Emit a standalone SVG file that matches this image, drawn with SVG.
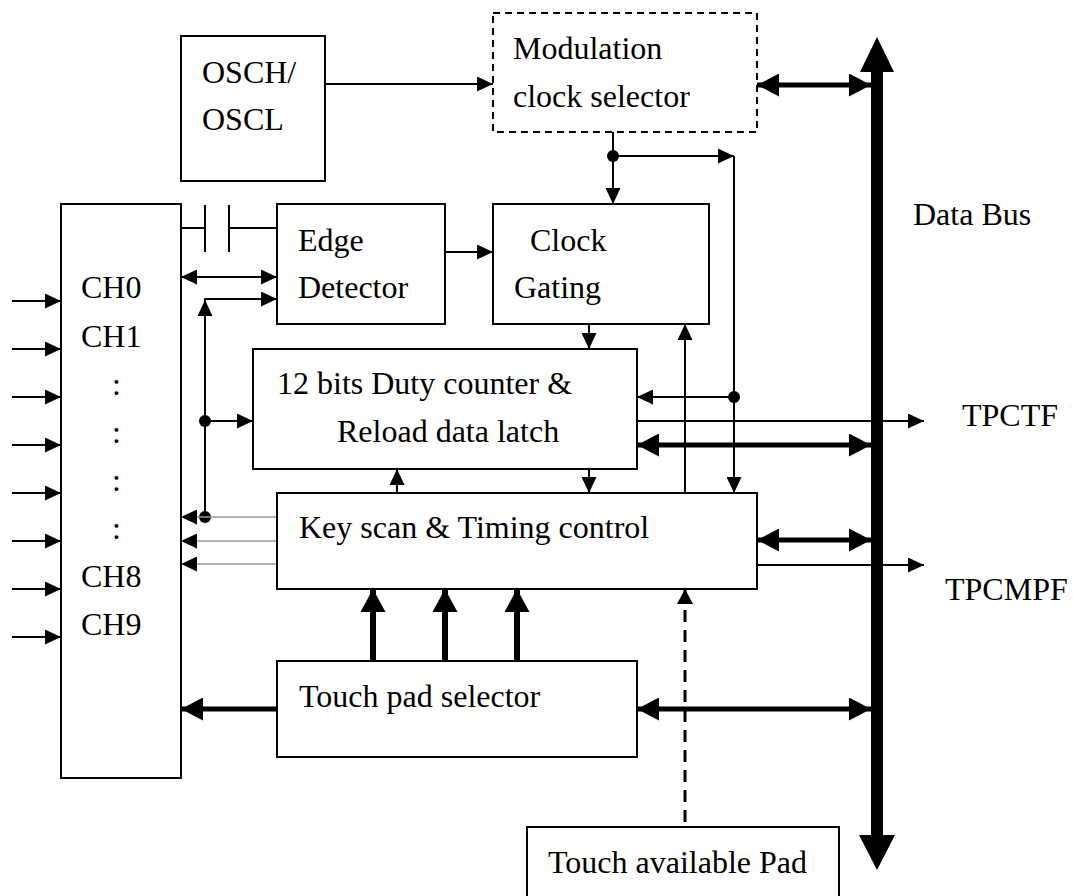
<svg xmlns="http://www.w3.org/2000/svg" width="1073" height="896" viewBox="0 0 1073 896">
<style>
  text { font-family: "Liberation Serif", "Times New Roman", serif; font-size: 32px; fill: #000; }
  .box { fill: #fff; stroke: #000; stroke-width: 2; }
  .dash { stroke-dasharray: 7 5; }
  .thin { stroke: #000; stroke-width: 2; fill: none; }
  .gray { stroke: #999; stroke-width: 1.5; fill: none; }
  .thick { stroke: #000; stroke-width: 5; fill: none; }
  .fat { stroke: #000; stroke-width: 6; fill: none; }
  .dashed { stroke: #000; stroke-width: 3; fill: none; stroke-dasharray: 12 8; }
</style>
<defs>
  <marker id="a" markerUnits="userSpaceOnUse" markerWidth="16" markerHeight="15" refX="16" refY="7.5" orient="auto-start-reverse">
    <path d="M0,0 L16,7.5 L0,15 z" fill="#000"/>
  </marker>
  <marker id="t" markerUnits="userSpaceOnUse" markerWidth="22" markerHeight="23" refX="22" refY="11.5" orient="auto-start-reverse">
    <path d="M0,0 L22,11.5 L0,23 z" fill="#000"/>
  </marker>
  <marker id="u" markerUnits="userSpaceOnUse" markerWidth="23" markerHeight="25" refX="23" refY="12.5" orient="auto-start-reverse">
    <path d="M0,0 L23,12.5 L0,25 z" fill="#000"/>
  </marker>
  <marker id="d" markerUnits="userSpaceOnUse" markerWidth="15" markerHeight="16" refX="15" refY="8" orient="auto-start-reverse">
    <path d="M0,0 L15,8 L0,16 z" fill="#000"/>
  </marker>
</defs>

<g id="connectors">
  <!-- data bus -->
  <path d="M871,72 L860,72 L877,37 L894,72 L883,72 L883,835 L895,835 L877,870 L859,835 L871,835 z" fill="#000"/>
  <line class="thin" x1="325" y1="84" x2="493" y2="84" marker-end="url(#a)"/>
  <line class="thick" x1="757" y1="85" x2="871" y2="85" marker-start="url(#t)" marker-end="url(#t)"/>
  <line class="thin" x1="613" y1="132" x2="613" y2="204" marker-end="url(#a)"/>
  <circle cx="613" cy="156" r="6" fill="#000"/>
  <line class="thin" x1="613" y1="156" x2="734" y2="156" marker-end="url(#a)"/>
  <line class="thin" x1="734" y1="156" x2="734" y2="493" marker-end="url(#a)"/>
  <circle cx="734" cy="397" r="6" fill="#000"/>
  <line class="thin" x1="734" y1="397" x2="637" y2="397" marker-end="url(#a)"/>
  <line class="thin" x1="445" y1="252" x2="493" y2="252" marker-end="url(#a)"/>
  <line class="thin" x1="589" y1="324" x2="589" y2="349" marker-end="url(#a)"/>
  <line class="thin" x1="685" y1="493" x2="685" y2="324" marker-end="url(#a)"/>
  <line class="thin" x1="589" y1="469" x2="589" y2="493" marker-end="url(#a)"/>
  <line class="thin" x1="397" y1="493" x2="397" y2="469" marker-end="url(#a)"/>
  <line class="thin" x1="637" y1="421" x2="924" y2="421" marker-end="url(#a)"/>
  <line class="thick" x1="637" y1="445" x2="871" y2="445" marker-start="url(#t)" marker-end="url(#t)"/>
  <line class="thick" x1="757" y1="540" x2="871" y2="540" marker-start="url(#t)" marker-end="url(#t)"/>
  <line class="thin" x1="757" y1="565" x2="924" y2="565" marker-end="url(#a)"/>
  <line class="thick" x1="637" y1="709" x2="871" y2="709" marker-start="url(#t)" marker-end="url(#t)"/>
  <line class="thick" x1="277" y1="709" x2="181" y2="709" marker-end="url(#t)"/>
  <line class="fat" x1="373" y1="661" x2="373" y2="589" marker-end="url(#u)"/>
  <line class="fat" x1="445" y1="661" x2="445" y2="589" marker-end="url(#u)"/>
  <line class="fat" x1="517" y1="661" x2="517" y2="589" marker-end="url(#u)"/>
  <line class="dashed" x1="685" y1="822" x2="685" y2="589" marker-end="url(#d)"/>
  <!-- capacitor -->
  <line class="thin" x1="181" y1="228" x2="205" y2="228"/>
  <line class="thin" x1="205" y1="205" x2="205" y2="252"/>
  <line class="thin" x1="229" y1="205" x2="229" y2="252"/>
  <line class="thin" x1="229" y1="228" x2="277" y2="228"/>
  <line class="thin" x1="181" y1="277" x2="277" y2="277" marker-start="url(#a)" marker-end="url(#a)"/>
  <line class="thin" x1="205" y1="517" x2="205" y2="300" marker-end="url(#a)"/>
  <line class="thin" x1="204" y1="299" x2="277" y2="299" marker-end="url(#a)"/>
  <circle cx="205" cy="421" r="6" fill="#000"/>
  <line class="thin" x1="205" y1="421" x2="253" y2="421" marker-end="url(#a)"/>
  <circle cx="205" cy="517" r="6" fill="#000"/>
  <line class="gray" x1="277" y1="517" x2="181" y2="517" marker-end="url(#a)"/>
  <line class="gray" x1="277" y1="541" x2="181" y2="541" marker-end="url(#a)"/>
  <line class="gray" x1="277" y1="564" x2="181" y2="564" marker-end="url(#a)"/>
  <!-- channel inputs -->
  <line class="thin" x1="12" y1="301" x2="61" y2="301" marker-end="url(#a)"/>
  <line class="thin" x1="12" y1="349" x2="61" y2="349" marker-end="url(#a)"/>
  <line class="thin" x1="12" y1="397" x2="61" y2="397" marker-end="url(#a)"/>
  <line class="thin" x1="12" y1="445" x2="61" y2="445" marker-end="url(#a)"/>
  <line class="thin" x1="12" y1="493" x2="61" y2="493" marker-end="url(#a)"/>
  <line class="thin" x1="12" y1="541" x2="61" y2="541" marker-end="url(#a)"/>
  <line class="thin" x1="12" y1="589" x2="61" y2="589" marker-end="url(#a)"/>
  <line class="thin" x1="12" y1="637" x2="61" y2="637" marker-end="url(#a)"/>
</g>

<g id="osc">
  <rect class="box" x="181" y="36" width="144" height="145"/>
  <text x="202" y="83">OSCH/</text>
  <text x="202" y="130">OSCL</text>
</g>
<g id="modulation">
  <rect class="box dash" x="493" y="13" width="264" height="119"/>
  <text x="513" y="59">Modulation</text>
  <text x="513" y="107">clock selector</text>
</g>
<g id="channels">
  <rect class="box" x="61" y="204" width="120" height="574"/>
  <text x="81" y="298">CH0</text>
  <text x="81" y="347">CH1</text>
  <text x="112" y="395">:</text>
  <text x="112" y="443">:</text>
  <text x="112" y="491">:</text>
  <text x="112" y="539">:</text>
  <text x="81" y="587">CH8</text>
  <text x="81" y="635">CH9</text>
</g>
<g id="edge">
  <rect class="box" x="277" y="204" width="168" height="120"/>
  <text x="298" y="251">Edge</text>
  <text x="298" y="298">Detector</text>
</g>
<g id="clock">
  <rect class="box" x="493" y="204" width="216" height="120"/>
  <text x="530" y="251">Clock</text>
  <text x="514" y="298">Gating</text>
</g>
<g id="duty">
  <rect class="box" x="253" y="349" width="384" height="120"/>
  <text x="277" y="394">12 bits Duty counter &amp;</text>
  <text x="337" y="442">Reload data latch</text>
</g>
<g id="keyscan">
  <rect class="box" x="277" y="493" width="480" height="96"/>
  <text x="299" y="538">Key scan &amp; Timing control</text>
</g>
<g id="touchsel">
  <rect class="box" x="277" y="661" width="360" height="96"/>
  <text x="299" y="707">Touch pad selector</text>
</g>
<g id="touchpad">
  <rect class="box" x="527" y="827" width="312" height="80"/>
  <text x="548" y="873">Touch available Pad</text>
</g>
<g id="labels">
  <text x="913" y="225">Data Bus</text>
  <text x="962" y="426">TPCTF</text>
  <text x="945" y="600">TPCMPF</text>
</g>
</svg>
